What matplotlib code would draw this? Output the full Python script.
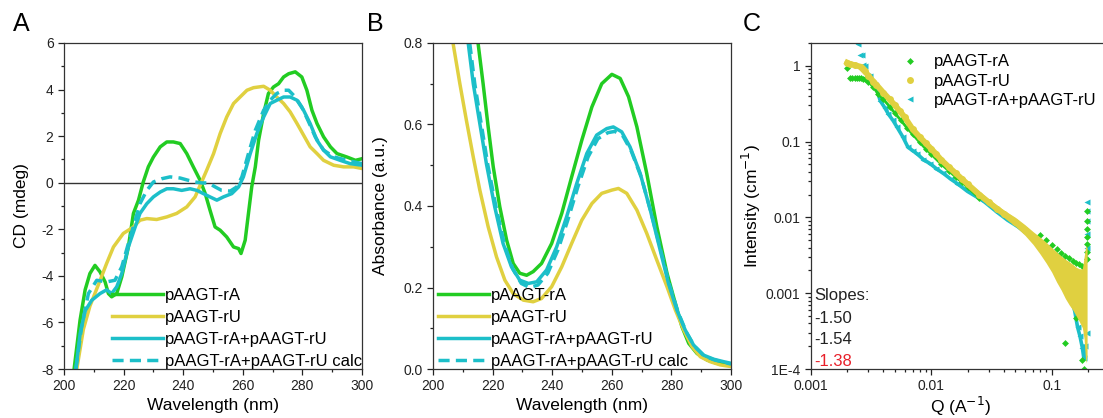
import numpy as np
import matplotlib
matplotlib.use("Agg")
import matplotlib.pyplot as plt
from matplotlib.ticker import MultipleLocator, FixedLocator, FixedFormatter, LogLocator, NullFormatter

plt.rcParams['font.family'] = ['Liberation Sans', 'DejaVu Sans']
plt.rcParams['axes.unicode_minus'] = False

GREEN = '#22cc22'
YELLOW = '#e0d040'
CYAN = '#1cbfc9'

labels = ['pAAGT-rA', 'pAAGT-rU', 'pAAGT-rA+pAAGT-rU', 'pAAGT-rA+pAAGT-rU calc']

# ---- panel A: CD spectra
cd_rA_x = [203.4, 205.4, 207.1, 208.7, 210.4, 212.1, 213.8, 214.9, 216.0, 217.7, 219.4, 221.6, 223.3, 225.0,
           226.6, 228.3, 230.0, 232.3, 234.5, 236.7, 239.0, 241.2, 243.4, 245.7, 247.4, 249.0, 250.7, 252.4,
           254.6, 256.9, 258.6, 259.4, 260.8, 261.9, 263.0, 264.2, 265.3, 267.0, 268.6, 270.3, 272.0, 273.7,
           275.4, 277.6, 279.8, 281.5, 283.2, 284.9, 287.1, 289.4, 291.6, 295.0, 297.8, 300.0]
cd_rA_y = [-8.0, -5.9, -4.6, -3.9, -3.55, -3.83, -4.26, -4.76, -4.9, -4.76, -4.04, -2.76, -1.32, -0.75,
           0.03, 0.68, 1.1, 1.54, 1.75, 1.75, 1.68, 1.25, 0.68, 0.1, -0.47, -1.18, -1.9, -2.04,
           -2.33, -2.76, -2.83, -3.04, -2.47, -1.32, -0.18, 0.68, 1.82, 2.97, 3.83, 4.11, 4.25, 4.54,
           4.68, 4.76, 4.54, 3.97, 3.11, 2.54, 1.97, 1.54, 1.25, 1.1, 0.96, 1.03]

cd_rU_x = [204.3, 206.5, 208.7, 212.1, 214.3, 216.6, 219.9, 223.3, 225.5, 227.8, 231.1, 234.5, 237.8, 241.2,
           244.0, 245.7, 247.9, 250.2, 252.4, 254.6, 256.9, 259.1, 261.4, 263.6, 267.0, 269.2, 271.4, 273.7,
           275.9, 278.2, 280.4, 282.6, 284.9, 287.1, 290.5, 293.8, 297.2, 300.0]
cd_rU_y = [-8.0, -6.3, -5.3, -4.2, -3.47, -2.76, -2.18, -1.9, -1.61, -1.54, -1.58, -1.47, -1.32, -1.04,
           -0.61, -0.11, 0.54, 1.25, 2.11, 2.82, 3.4, 3.68, 3.97, 4.08, 4.14, 3.97, 3.68, 3.4,
           3.04, 2.54, 2.04, 1.54, 1.25, 0.96, 0.75, 0.68, 0.68, 0.61]

cd_mix_x = [204.0, 205.4, 207.1, 209.3, 212.1, 214.3, 216.0, 217.7, 219.4, 221.6, 223.9, 225.5, 227.8, 230.0,
            232.3, 234.5, 236.7, 239.5, 242.3, 244.6, 246.8, 249.0, 251.3, 253.5, 256.3, 258.6, 260.2, 262.5,
            264.7, 267.0, 269.2, 271.4, 273.7, 275.9, 278.2, 280.4, 282.6, 284.9, 287.1, 289.4, 292.7, 296.0, 300.0]
cd_mix_y = [-8.0, -6.5, -5.5, -5.05, -4.76, -4.6, -4.76, -4.47, -3.9, -2.76, -1.9, -1.32, -0.9, -0.61,
            -0.4, -0.26, -0.26, -0.33, -0.26, -0.33, -0.47, -0.61, -0.75, -0.61, -0.47, -0.18, 0.25, 1.25,
            2.11, 2.82, 3.4, 3.54, 3.68, 3.68, 3.54, 3.11, 2.54, 1.82, 1.4, 1.11, 0.96, 0.82, 0.75]

cd_calc_x = [204.0, 205.9, 208.2, 211.0, 214.3, 217.1, 219.4, 221.6, 223.9, 225.5, 227.8, 230.0, 232.8, 235.6,
             239.0, 241.8, 244.0, 246.2, 248.5, 250.7, 252.9, 255.8, 258.0, 259.7, 261.9, 264.2, 267.0, 269.2,
             271.4, 273.7, 275.4, 277.6, 279.8, 282.1, 284.3, 287.1, 290.5, 295.0, 300.0]
cd_calc_y = [-8.0, -6.2, -4.76, -4.19, -4.26, -4.19, -3.61, -2.61, -1.61, -0.9, -0.33, 0.03, 0.17, 0.25,
             0.2, 0.1, 0.03, -0.01, -0.01, -0.18, -0.33, -0.36, -0.18, 0.25, 1.25, 2.25, 3.11, 3.54,
             3.83, 3.97, 3.97, 3.68, 3.25, 2.61, 1.97, 1.4, 1.11, 0.96, 0.82]

# ---- panel B: UV absorbance
uv_rA_x = [215.1, 216.8, 218.5, 220.2, 222.4, 224.7, 226.9, 229.1, 231.4, 233.6, 236.4, 239.8, 243.2, 246.5,
           249.9, 253.3, 256.6, 260.0, 262.8, 265.6, 268.4, 271.7, 275.1, 278.5, 281.3, 283.5, 285.8, 288.6,
           292.0, 295.3, 300.0]
uv_rA_y = [0.80, 0.70, 0.594, 0.496, 0.398, 0.316, 0.259, 0.235, 0.230, 0.239, 0.259, 0.308, 0.382, 0.471,
           0.561, 0.643, 0.700, 0.723, 0.713, 0.668, 0.594, 0.480, 0.349, 0.235, 0.161, 0.104, 0.063, 0.038,
           0.022, 0.014, 0.010]

uv_rU_x = [206.7, 209.0, 211.2, 213.5, 215.7, 218.5, 221.3, 224.1, 226.9, 230.3, 233.6, 236.4, 239.8, 243.2,
           246.5, 249.9, 253.3, 256.6, 260.0, 262.2, 265.0, 268.4, 271.7, 275.1, 278.5, 281.3, 284.1, 286.9,
           289.7, 293.0, 296.4, 300.0]
uv_rU_y = [0.80, 0.70, 0.61, 0.52, 0.439, 0.349, 0.275, 0.218, 0.185, 0.169, 0.165, 0.173, 0.202, 0.251,
           0.308, 0.365, 0.406, 0.431, 0.439, 0.443, 0.431, 0.390, 0.333, 0.267, 0.202, 0.145, 0.096, 0.055,
           0.030, 0.018, 0.010, 0.006]

uv_mix_x = [211.8, 213.5, 215.7, 217.9, 220.7, 223.5, 226.3, 229.1, 232.0, 234.8, 238.1, 241.5, 244.8, 248.2,
            251.6, 254.9, 258.3, 260.5, 263.3, 266.1, 269.5, 272.9, 276.2, 279.0, 281.8, 284.6, 287.4, 290.8,
            294.2, 297.5, 300.0]
uv_mix_y = [0.80, 0.70, 0.602, 0.504, 0.398, 0.308, 0.251, 0.218, 0.210, 0.214, 0.243, 0.300, 0.373, 0.455,
            0.529, 0.574, 0.590, 0.594, 0.582, 0.545, 0.480, 0.390, 0.292, 0.210, 0.145, 0.096, 0.059, 0.034,
            0.024, 0.018, 0.014]

uv_calc_x = [212.3, 214.0, 216.2, 218.4, 221.2, 224.0, 226.8, 229.6, 232.4, 235.2, 238.5, 241.9, 245.2, 248.6,
             252.0, 255.3, 258.7, 261.0, 263.7, 266.5, 269.9, 273.3, 276.6, 279.4, 282.2, 285.0, 287.8, 291.0,
             294.5, 297.5, 300.0]
uv_calc_y = [0.80, 0.70, 0.60, 0.50, 0.395, 0.305, 0.245, 0.210, 0.200, 0.206, 0.235, 0.292, 0.365, 0.447,
             0.520, 0.565, 0.580, 0.583, 0.572, 0.535, 0.470, 0.380, 0.285, 0.205, 0.140, 0.090, 0.055, 0.032,
             0.022, 0.017, 0.012]

# ---- panel C: SAXS
q_rA = [0.0020, 0.0021, 0.0022, 0.0023, 0.0024, 0.0025, 0.0026, 0.0027, 0.0028, 0.0030, 0.0033, 0.0036,
        0.0040, 0.0045, 0.0050, 0.0056, 0.0063, 0.0070, 0.0080, 0.0090, 0.010, 0.012, 0.014, 0.016, 0.018,
        0.020, 0.025, 0.080, 0.090, 0.100, 0.110, 0.120, 0.130, 0.140, 0.150, 0.160, 0.170, 0.180,
        0.195, 0.195, 0.195, 0.195, 0.195, 0.195, 0.196, 0.130, 0.158, 0.180, 0.170, 0.185]
I_rA = [0.94, 0.69, 0.68, 0.68, 0.68, 0.68, 0.68, 0.67, 0.66, 0.62, 0.52, 0.43, 0.36, 0.29, 0.235, 0.19,
        0.15, 0.125, 0.098, 0.08, 0.068, 0.051, 0.041, 0.034, 0.029, 0.025, 0.018, 0.0058, 0.0050, 0.0043,
        0.0038, 0.0034, 0.0031, 0.0029, 0.0027, 0.0025, 0.0024, 0.0023, 0.012, 0.009, 0.007, 0.0055, 0.0044,
        0.0035, 0.0028, 0.00022, 0.00047, 0.00013, 0.0006, 0.0001]

q_rU = [0.0020, 0.0021, 0.0023, 0.0026, 0.0027, 0.0028, 0.0030, 0.0033, 0.0035, 0.0040, 0.0045, 0.0050,
        0.0055, 0.0060, 0.0070, 0.0080, 0.0090, 0.010, 0.011, 0.012, 0.014, 0.016, 0.018, 0.020, 0.025,
        0.030, 0.035, 0.040, 0.050, 0.060, 0.070, 0.080, 0.090, 0.100]
I_rU = [1.10, 1.06, 1.02, 0.97, 0.92, 0.85, 0.74, 0.62, 0.56, 0.44, 0.36, 0.30, 0.25, 0.21, 0.145, 0.115,
        0.095, 0.080, 0.068, 0.058, 0.046, 0.038, 0.032, 0.0275, 0.020, 0.0158, 0.0130, 0.0112, 0.0087,
        0.0069, 0.0055, 0.0045, 0.0037, 0.0030]
# spread of the rU points at high Q (upper and lower edge)
q_rU_band = [0.020, 0.030, 0.040, 0.050, 0.060, 0.070, 0.080, 0.090, 0.100, 0.110, 0.120, 0.130, 0.140,
             0.150, 0.160, 0.170, 0.180, 0.186, 0.192, 0.197]
I_rU_hi = [0.030, 0.0175, 0.0125, 0.0100, 0.0080, 0.0065, 0.0055, 0.0047, 0.0040, 0.0035, 0.0031, 0.0028,
           0.0026, 0.0024, 0.0022, 0.0021, 0.0021, 0.0030, 0.0042, 0.0040]
I_rU_lo = [0.025, 0.0145, 0.0100, 0.0076, 0.0058, 0.0044, 0.0033, 0.0025, 0.0019, 0.0014, 0.0011, 0.00085,
           0.0007, 0.0006, 0.0005, 0.00042, 0.00035, 0.00025, 0.00012, 0.00015]

q_mix = [0.00246, 0.00256, 0.00265, 0.0027, 0.0028, 0.0031, 0.0034, 0.0036, 0.00376, 0.0041, 0.0044, 0.0048,
         0.0052, 0.0058, 0.0064, 0.0070, 0.0076, 0.0086, 0.0098, 0.011, 0.0126, 0.0145, 0.0164, 0.020, 0.027,
         0.035, 0.043, 0.052, 0.065, 0.080, 0.098, 0.110, 0.126, 0.135, 0.144, 0.155, 0.164, 0.172, 0.180,
         0.185, 0.190, 0.196, 0.196, 0.196, 0.196, 0.196, 0.196]
I_mix = [1.95, 1.40, 1.40, 1.02, 1.00, 0.74, 0.55, 0.43, 0.346, 0.28, 0.23, 0.19, 0.154, 0.115, 0.084, 0.076,
         0.069, 0.058, 0.051, 0.044, 0.038, 0.032, 0.028, 0.022, 0.0165, 0.0118, 0.0092, 0.0076, 0.0058,
         0.0045, 0.0032, 0.0024, 0.0016, 0.0012, 0.00083, 0.0006, 0.00036, 0.00027, 0.00019, 0.00014, 0.0002,
         0.016, 0.012, 0.009, 0.006, 0.004, 0.0003]

slopes = ['-1.50', '-1.54', '-1.38']
slope_colors = ['#222222', '#222222', '#e8202a']

fig = plt.figure(figsize=(11.03, 4.18), dpi=100)
bot, hgt, wid = 0.1172, 0.780, 0.2702
axA = fig.add_axes([0.0580, bot, wid, hgt])
axB = fig.add_axes([0.3926, bot, wid, hgt])
axC = fig.add_axes([0.7353, bot, wid, hgt])

lw = 2.5
dash = (0, (3.2, 1.8))
fs_leg = 12.0


def style(ax):
    for s in ax.spines.values():
        s.set_linewidth(0.9)
        s.set_color('#333333')
    ax.tick_params(which='both', direction='out', top=False, right=False, labelsize=10, colors='#222222')
    ax.tick_params(which='major', length=4, width=0.9)
    ax.tick_params(which='minor', length=2.5, width=0.9)


# A
axA.axhline(0, color='#333333', lw=1.0, zorder=1)
axA.plot(cd_rA_x, cd_rA_y, color=GREEN, lw=lw, label=labels[0])
axA.plot(cd_rU_x, cd_rU_y, color=YELLOW, lw=lw, label=labels[1])
axA.plot(cd_mix_x, cd_mix_y, color=CYAN, lw=lw, label=labels[2])
axA.plot(cd_calc_x, cd_calc_y, color=CYAN, lw=lw, ls=dash, label=labels[3])
axA.set_xlim(200, 300)
axA.set_ylim(-8, 6)
axA.xaxis.set_major_locator(MultipleLocator(20))
axA.xaxis.set_minor_locator(MultipleLocator(10))
axA.yaxis.set_major_locator(MultipleLocator(2))
axA.yaxis.set_minor_locator(MultipleLocator(1))
axA.set_xlabel('Wavelength (nm)', fontsize=12.5, labelpad=3)
axA.set_ylabel('CD (mdeg)', fontsize=12.5, labelpad=9)
style(axA)
axA.legend(loc='lower left', bbox_to_anchor=(0.16, 0.0), frameon=False, fontsize=fs_leg,
           handlelength=3.1, handletextpad=0.1, labelspacing=0.42, borderpad=0, borderaxespad=0)

# B
axB.plot(uv_rA_x, uv_rA_y, color=GREEN, lw=lw, label=labels[0])
axB.plot(uv_rU_x, uv_rU_y, color=YELLOW, lw=lw, label=labels[1])
axB.plot(uv_mix_x, uv_mix_y, color=CYAN, lw=lw, label=labels[2])
axB.plot(uv_calc_x, uv_calc_y, color=CYAN, lw=lw, ls=dash, label=labels[3])
axB.set_xlim(200, 300)
axB.set_ylim(0, 0.8)
axB.xaxis.set_major_locator(MultipleLocator(20))
axB.xaxis.set_minor_locator(MultipleLocator(10))
axB.yaxis.set_major_locator(MultipleLocator(0.2))
axB.yaxis.set_minor_locator(MultipleLocator(0.1))
axB.set_xlabel('Wavelength (nm)', fontsize=12.5, labelpad=3)
axB.set_ylabel('Absorbance (a.u.)', fontsize=12.5, labelpad=11)
style(axB)
axB.legend(loc='lower left', bbox_to_anchor=(0.015, 0.0), frameon=False, fontsize=fs_leg,
           handlelength=3.1, handletextpad=0.1, labelspacing=0.42, borderpad=0, borderaxespad=0)

# C
axC.set_xscale('log')
axC.set_yscale('log')
axC.fill_between(q_rU_band, I_rU_lo, I_rU_hi, color=YELLOW, lw=0, zorder=3)
axC.plot(q_mix, I_mix, ls='none', marker='<', ms=4.5, mec='none', color=CYAN, zorder=2,
         label='pAAGT-rA+pAAGT-rU')
axC.plot(q_mix[5:41], I_mix[5:41], ls='-', lw=2.6, color=CYAN, zorder=2)
axC.plot(q_rA, I_rA, ls='none', marker='D', ms=3.5, mec='none', color=GREEN, zorder=2.5,
         label='pAAGT-rA')
axC.plot(q_rA[8:27], I_rA[8:27], ls='-', lw=2.0, color=GREEN, zorder=2.5)
axC.plot(q_rU, I_rU, ls='-', lw=4.2, marker='o', ms=5, mec='none', color=YELLOW, zorder=4,
         label='pAAGT-rU')
axC.set_xlim(0.001, 0.3)
axC.set_ylim(1e-4, 2)
axC.yaxis.set_major_locator(FixedLocator([1e-4, 1e-3, 1e-2, 1e-1, 1]))
axC.yaxis.set_major_formatter(FixedFormatter(['1E-4', '0.001', '0.01', '0.1', '1']))
axC.xaxis.set_major_locator(FixedLocator([1e-3, 1e-2, 1e-1]))
axC.xaxis.set_major_formatter(FixedFormatter(['0.001', '0.01', '0.1']))
axC.xaxis.set_minor_locator(LogLocator(base=10, subs=np.arange(2, 10)))
axC.yaxis.set_minor_locator(LogLocator(base=10, subs=np.arange(2, 10)))
axC.xaxis.set_minor_formatter(NullFormatter())
axC.yaxis.set_minor_formatter(NullFormatter())
axC.set_xlabel('Q (A$^{-1}$)', fontsize=12.5, labelpad=1)
axC.set_ylabel('Intensity (cm$^{-1}$)', fontsize=12.5, labelpad=2)
style(axC)
h, l = axC.get_legend_handles_labels()
order = [l.index('pAAGT-rA'), l.index('pAAGT-rU'), l.index('pAAGT-rA+pAAGT-rU')]
legC = axC.legend([h[i] for i in order], [l[i] for i in order], loc='upper left',
                  bbox_to_anchor=(0.3, 0.965), frameon=False, fontsize=fs_leg, handlelength=1.2,
                  handletextpad=0.8, labelspacing=0.25, borderpad=0, borderaxespad=0, markerscale=1.0)
for hd in legC.legend_handles:
    hd.set_linestyle('none')

axC.text(0.012, 0.224, 'Slopes:', transform=axC.transAxes, fontsize=fs_leg, va='center', color='#222222')
for i, (s, c) in enumerate(zip(slopes, slope_colors)):
    axC.text(0.012, 0.156 - i * 0.066, s, transform=axC.transAxes, fontsize=fs_leg, va='center', color=c)

for ax, letter, x in [(axA, 'A', 0.012), (axB, 'B', 0.333), (axC, 'C', 0.673)]:
    fig.text(x, 0.943, letter, fontsize=18, va='center', ha='left')

fig.savefig('out.png', dpi=100)
